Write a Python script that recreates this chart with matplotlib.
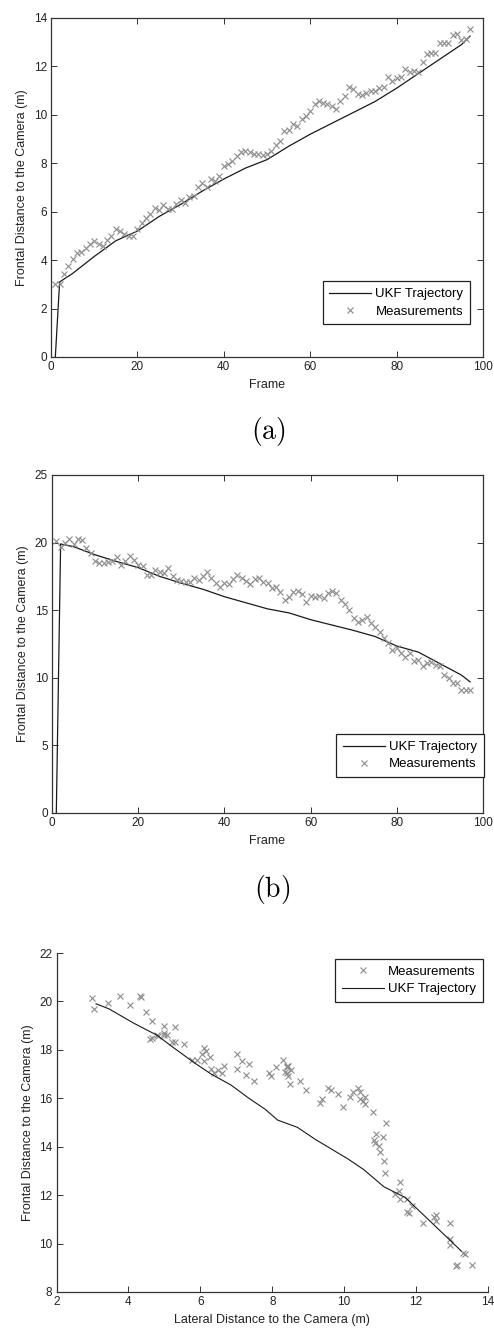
import matplotlib
matplotlib.use('Agg')
import matplotlib.pyplot as plt

plt.rcParams['font.family'] = ['Liberation Sans', 'DejaVu Sans']
plt.rcParams['mathtext.fontset'] = 'cm'

# measurement frames 1..97
frames = list(range(1, 98))

# (a) lateral distance measurements
meas_a = [3.0, 3.03, 3.42, 3.76, 4.04, 4.31, 4.35, 4.49, 4.66, 4.80,
          4.66, 4.59, 4.82, 5.0, 5.3, 5.2, 5.07, 5.0, 5.0, 5.3,
          5.55, 5.76, 5.9, 6.15, 6.06, 6.28, 6.1, 6.1, 6.3, 6.48,
          6.38, 6.59, 6.65, 7.03, 7.17, 7.03, 7.34, 7.28, 7.48, 7.9,
          7.96, 8.1, 8.31, 8.45, 8.52, 8.45, 8.4, 8.4, 8.35, 8.4,
          8.5, 8.76, 8.93, 9.34, 9.37, 9.62, 9.55, 9.83, 9.96, 10.17,
          10.45, 10.58, 10.51, 10.45, 10.38, 10.24, 10.58, 10.79, 11.16, 11.07,
          10.86, 10.83, 10.89, 10.97, 11.0, 11.1, 11.13, 11.55, 11.41, 11.52,
          11.55, 11.9, 11.75, 11.8, 11.75, 12.2, 12.5, 12.55, 12.55, 12.95,
          12.95, 12.95, 13.3, 13.35, 13.1, 13.15, 13.55]

# (b) frontal distance measurements
meas_b = [20.14, 19.7, 19.94, 20.24, 19.87, 20.24, 20.19, 19.57, 19.2, 18.63,
          18.5, 18.46, 18.58, 18.63, 18.95, 18.34, 18.63, 19.0, 18.7, 18.34,
          18.26, 17.6, 17.6, 17.97, 17.84, 17.72, 18.09, 17.52, 17.23, 17.15,
          17.05, 17.05, 17.35, 17.23, 17.52, 17.84, 17.4, 16.98, 16.73, 17.03,
          16.93, 17.28, 17.6, 17.35, 17.18, 16.93, 17.28, 17.35, 17.1, 17.03,
          16.61, 16.73, 16.36, 15.79, 15.99, 16.36, 16.44, 16.19, 15.62, 16.04,
          15.99, 16.04, 15.87, 16.24, 16.44, 16.24, 15.75, 15.45, 15.0, 14.39,
          14.14, 14.26, 14.51, 14.02, 13.77, 13.4, 12.91, 12.54, 12.04, 12.17,
          11.85, 11.55, 11.85, 11.25, 11.3, 10.86, 11.1, 11.18, 10.93, 10.86,
          10.19, 9.95, 9.62, 9.58, 9.08, 9.13, 9.13]

# UKF trajectory vertices
ukf_frames = [1, 2, 5, 10, 15, 20, 25, 30, 35, 40, 45, 50, 55, 60, 65, 70,
              75, 80, 85, 90, 95, 97]
ukf_a = [0, 3.1, 3.45, 4.15, 4.8, 5.2, 5.8, 6.3, 6.85, 7.35, 7.8, 8.15, 8.7,
         9.2, 9.65, 10.1, 10.55, 11.1, 11.7, 12.3, 12.9, 13.25]
ukf_b = [0, 19.9, 19.7, 19.1, 18.6, 18.15, 17.5, 17.0, 16.55, 16.0, 15.55,
         15.1, 14.8, 14.3, 13.9, 13.5, 13.05, 12.35, 11.9, 11.05, 10.2, 9.7]

W, H = 494, 1330
line_col = '#1a1a1a'
meas_col = '#8c8c8c'
txt_col = '#222222'


def rect(l, t, r, b):
    return [l / W, 1 - b / H, (r - l) / W, (b - t) / H]


def style(ax, box=True):
    for s in ax.spines.values():
        s.set_linewidth(0.9)
        s.set_color('#333333')
    if not box:
        ax.spines['top'].set_visible(False)
        ax.spines['right'].set_visible(False)
    ax.tick_params(direction='in', length=4, width=0.7, labelsize=8.5,
                   top=box, right=box, colors='#333333', labelcolor=txt_col, pad=3)


def legend(ax, order, loc, anchor):
    h, l = ax.get_legend_handles_labels()
    h = [h[i] for i in order]
    l = [l[i] for i in order]
    leg = ax.legend(h, l, loc=loc, bbox_to_anchor=anchor, borderaxespad=0,
                    fontsize=9.5, frameon=True, fancybox=False, framealpha=1,
                    edgecolor='#222222', handlelength=3.2, handletextpad=0.3,
                    borderpad=0.5, labelspacing=0.38)
    leg.get_frame().set_linewidth(0.9)


fig = plt.figure(figsize=(W / 100, H / 100), dpi=100)

# (a)
ax1 = fig.add_axes(rect(51, 18, 483, 357))
ax1.plot(ukf_frames, ukf_a, color=line_col, lw=0.9, label='UKF Trajectory')
ax1.plot(frames, meas_a, 'x', color=meas_col, ms=4.5, mew=0.8, label='Measurements')
ax1.set_xlim(0, 100)
ax1.set_ylim(0, 14)
ax1.set_xticks(range(0, 101, 20))
ax1.set_yticks(range(0, 15, 2))
ax1.set_xlabel('Frame', fontsize=9, color=txt_col, labelpad=4)
ax1.set_ylabel('Frontal Distance to the Camera (m)', fontsize=9, color=txt_col, labelpad=4)
style(ax1)
legend(ax1, [0, 1], 'lower right', (0.970, 0.097))
fig.text(268 / W, 1 - 432 / H, r'$\mathrm{(a)}$', fontsize=20, ha='center', va='center')

# (b)
ax2 = fig.add_axes(rect(52, 475, 483, 813))
ax2.plot(ukf_frames, ukf_b, color=line_col, lw=0.9, label='UKF Trajectory')
ax2.plot(frames, meas_b, 'x', color=meas_col, ms=4.5, mew=0.8, label='Measurements')
ax2.set_xlim(0, 100)
ax2.set_ylim(0, 25)
ax2.set_xticks(range(0, 101, 20))
ax2.set_yticks(range(0, 26, 5))
ax2.set_xlabel('Frame', fontsize=9, color=txt_col, labelpad=4)
ax2.set_ylabel('Frontal Distance to the Camera (m)', fontsize=9, color=txt_col, labelpad=4)
style(ax2)
legend(ax2, [0, 1], 'lower right', (1.002, 0.1065))
fig.text(272 / W, 1 - 890 / H, r'$\mathrm{(b)}$', fontsize=20, ha='center', va='center')

# (c) lateral vs frontal
ax3 = fig.add_axes(rect(56.5, 953, 488, 1292))
ax3.plot(meas_a, meas_b, 'x', color=meas_col, ms=4.5, mew=0.8, label='Measurements')
ax3.plot(ukf_a[1:], ukf_b[1:], color=line_col, lw=0.8, label='UKF Trajectory')
ax3.set_xlim(2, 14)
ax3.set_ylim(8, 22)
ax3.set_xticks(range(2, 15, 2))
ax3.set_yticks(range(8, 23, 2))
ax3.set_xlabel('Lateral Distance to the Camera (m)', fontsize=9, color=txt_col, labelpad=4)
ax3.set_ylabel('Frontal Distance to the Camera (m)', fontsize=9, color=txt_col, labelpad=4)
style(ax3, box=False)
legend(ax3, [0, 1], 'upper right', (0.988, 0.982))

fig.savefig('out.png', dpi=100)
